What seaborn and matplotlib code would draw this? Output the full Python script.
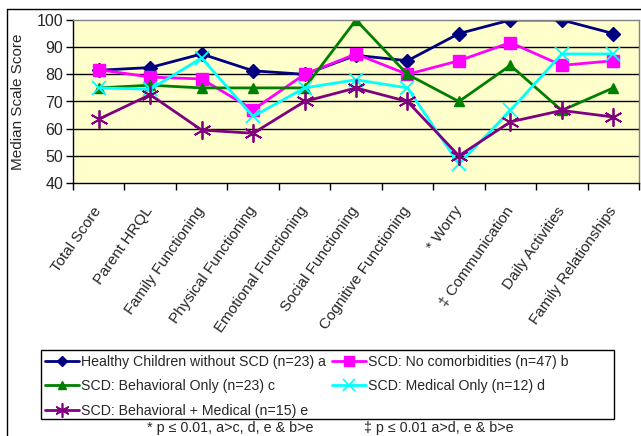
import matplotlib
matplotlib.use("Agg")
import matplotlib.pyplot as plt
from matplotlib.lines import Line2D
from matplotlib.patches import Rectangle
from matplotlib.ticker import FixedLocator
import seaborn as sns

# Data
categories = ["Total Score", "Parent HRQL", "Family Functioning", "Physical Functioning",
              "Emotional Functioning", "Social Functioning", "Cognitive Functioning",
              "* Worry", "\u2021 Communication", "Daily Activities", "Family Relationships"]
healthy = [81.5, 82.5, 87.5, 81.3, 80.0, 87.0, 85.0, 95.0, 100.0, 100.0, 95.0]
no_comorb = [81.7, 79.0, 78.3, 67.0, 80.0, 87.5, 80.0, 85.0, 91.7, 83.3, 85.0]
behavioral = [75.0, 76.0, 75.0, 75.0, 75.0, 100.0, 80.0, 70.0, 83.3, 66.7, 75.0]
medical = [75.0, 74.5, 86.0, 64.5, 75.0, 78.0, 75.0, 47.0, 66.7, 87.5, 87.5]
beh_med = [63.5, 72.5, 59.5, 58.3, 70.0, 75.0, 70.0, 50.0, 62.5, 66.7, 64.3]

series_labels = ["Healthy Children without SCD (n=23) a", "SCD: No comorbidities (n=47) b",
                 "SCD: Behavioral Only (n=23) c", "SCD: Medical Only (n=12) d",
                 "SCD: Behavioral + Medical (n=15) e"]

sns.set_style("white")
plt.rcParams["font.family"] = ["Liberation Sans", "DejaVu Sans"]

fig = plt.figure(figsize=(6.41, 4.36), dpi=100)
ax = fig.add_axes([73 / 641, 1 - 183 / 436, (639 - 73) / 641, (183 - 20) / 436])
ax.set_facecolor("#FFFFCC")

styles = [
    (healthy, "#000080", "D", 7),
    (no_comorb, "#FF00FF", "s", 9),
    (behavioral, "#008000", "^", 7),
    (medical, "#00FFFF", "x", 10),
    (beh_med, "#800080", (6, 2, 0), 13),
]
handles = []
for (vals, col, mk, ms), lab in zip(styles, series_labels):
    thin = mk in ("x", (6, 2, 0))
    sns.lineplot(x=categories, y=vals, ax=ax, color=col, marker=mk, markersize=ms,
                 markeredgecolor=col, markeredgewidth=1.3 if thin else 1,
                 linewidth=2, sort=False, label=lab, legend=False)
    handles.append(Line2D([], [], color=col, marker=mk, markersize=ms * 0.8,
                          markeredgecolor=col, markeredgewidth=1.2 if thin else 1,
                          linewidth=2, label=lab))

ax.set_xlim(-0.5, 10.5)
ax.set_ylim(40, 100)
ax.set_yticks(range(40, 101, 10))
for y in range(50, 100, 10):
    ax.axhline(y, color="black", linewidth=1, zorder=0.5)

ax.set_xticks(range(len(categories)))
ax.set_xticklabels(categories, rotation=55, ha="right", va="center",
                   rotation_mode="anchor", fontsize=11)
ax.xaxis.set_minor_locator(FixedLocator([i - 0.5 for i in range(len(categories) + 1)]))
ax.tick_params(axis="x", which="major", length=0, pad=18)
ax.tick_params(axis="x", which="minor", length=5, color="black", width=1, direction="out", bottom=True)
ax.tick_params(axis="y", length=5, color="black", width=1, direction="out", left=True, labelsize=11.5, pad=2)

ax.set_ylabel("Median Scale Score", fontsize=11)
ax.yaxis.set_label_coords(-0.085, 0.5)
ax.set_xlabel("")

for side in ["left", "bottom"]:
    ax.spines[side].set_color("black")
    ax.spines[side].set_linewidth(1)
for side in ["top", "right"]:
    ax.spines[side].set_color("#808080")
    ax.spines[side].set_linewidth(1)

# outer chart frame (cropped at right and bottom)
fig.add_artist(Line2D([7 / 641, 1.0], [1 - 9 / 436, 1 - 9 / 436], color="black", linewidth=1))
fig.add_artist(Line2D([7 / 641, 7 / 641], [0, 1 - 9 / 436], color="black", linewidth=1))

# legend box
fig.add_artist(Rectangle((41 / 641, 1 - 419 / 436), (614 - 41) / 641, (419 - 350) / 436,
                         transform=fig.transFigure, fill=False, edgecolor="black", linewidth=1))
order = [0, 2, 4, 1, 3]
fig.legend([handles[i] for i in order], [series_labels[i] for i in order], ncol=2,
           loc="upper left", bbox_to_anchor=(41 / 641, 1 - 351 / 436), frameon=False,
           fontsize=10.2, handlelength=2.4, handletextpad=0.15, columnspacing=0.4,
           labelspacing=0.72, borderpad=0.3, borderaxespad=0)

fig.text(230 / 641, 1 - 428 / 436, "* p \u2264 0.01, a>c, d, e & b>e", ha="center", va="center", fontsize=10.3)
fig.text(439 / 641, 1 - 428 / 436, "\u2021 p \u2264 0.01 a>d, e & b>e", ha="center", va="center", fontsize=10.3)

fig.savefig("out.png", dpi=100)
